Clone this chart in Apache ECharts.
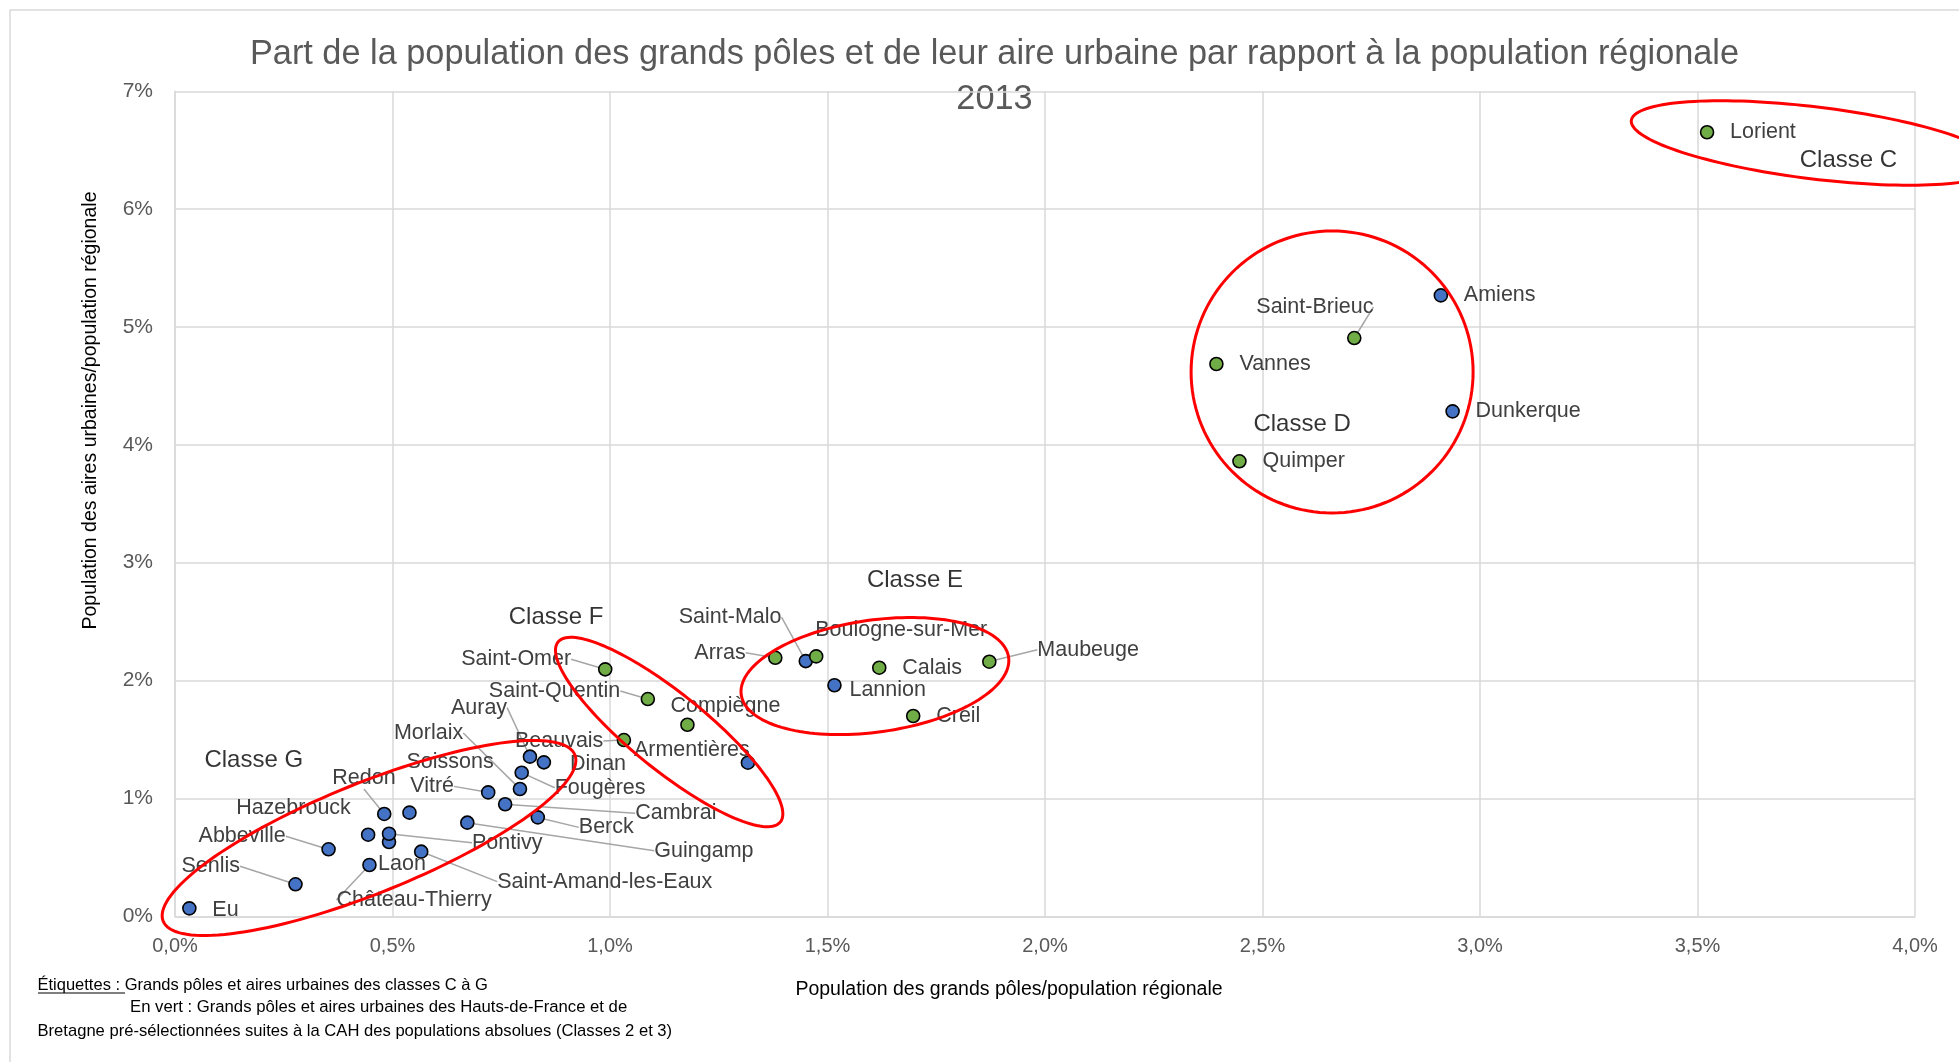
<!DOCTYPE html>
<html>
<head>
<meta charset="utf-8">
<script src="https://cdn.jsdelivr.net/npm/echarts@6/dist/echarts.min.js"></script>
<style>
html,body{margin:0;padding:0;background:#ffffff;}
#chart{width:1959px;height:1062px;}
</style>
</head>
<body>
<div id="chart"></div>
<script>
// ---------- DATA (in % ) ----------
const cities = ['Lorient','Saint-Brieuc','Vannes','Quimper','Maubeuge','Calais','Creil','Boulogne-sur-Mer','Arras','Saint-Omer','Saint-Quentin','Compiègne','Beauvais',
  'Amiens','Dunkerque','Saint-Malo','Lannion','Armentières','Dinan','Auray','Fougères','Morlaix','Vitré','Soissons','Cambrai','Berck','Guingamp','Pontivy','Laon','Hazebrouck','Redon','Saint-Amand-les-Eaux','Château-Thierry','Abbeville','Senlis','Eu'];
// Population des grands pôles / population régionale (x, %)
const partPoles = [3.522,2.711,2.394,2.447,1.872,1.619,1.697,1.474,1.380,0.989,1.087,1.178,1.032,
  2.910,2.937,1.450,1.516,1.317,0.848,0.816,0.797,0.793,0.720,0.539,0.759,0.834,0.672,0.492,0.492,0.444,0.481,0.566,0.447,0.353,0.277,0.033];
// Population des aires urbaines / population régionale (y, %)
const partAires = [6.652,4.906,4.686,3.860,2.160,2.109,1.699,2.205,2.193,2.095,1.843,1.625,1.495,
  5.268,4.284,2.165,1.960,1.303,1.306,1.354,1.218,1.080,1.051,0.879,0.950,0.839,0.794,0.700,0.630,0.692,0.868,0.548,0.435,0.568,0.271,0.067];
// Villes pré-sélectionnées (en vert)
const villesEnVert = ['Lorient','Saint-Brieuc','Vannes','Quimper','Maubeuge','Calais','Creil','Boulogne-sur-Mer','Arras','Saint-Omer','Saint-Quentin','Compiègne','Beauvais'];

// Classes (annotations)
const classNames   = ['Classe C','Classe D','Classe E','Classe F','Classe G'];
const classLabelX  = [3.847, 2.591, 1.701, 0.876, 0.181];
const classLabelY  = [6.417, 4.170, 2.848, 2.535, 1.322];
const classCenterX = [3.770, 2.660, 1.609, 1.136, 0.446];
const classCenterY = [6.561, 4.618, 2.038, 1.563, 0.664];

const xTickLabel = v => v.toFixed(1).replace('.', ',') + '%';
const yTickLabel = v => v + '%';

// ---------- LAYOUT / STYLE CONFIG ----------
const ellipseShapes = [ // pixel radii, screen rotation (deg, clockwise)
  {rx:185, ry:36, angle:7},
  {rx:141, ry:141, angle:0},
  {rx:135, ry:56, angle:-8},
  {rx:143, ry:38, angle:39},
  {rx:222, ry:55, angle:-22}
];
const labelOffsets = { // label left edge / vertical centre relative to marker centre (px)
  'Saint-Brieuc':[-98,-31], 'Maubeuge':[48,-12], 'Boulogne-sur-Mer':[-1,-26], 'Arras':[-81,-5],
  'Saint-Omer':[-144,-10], 'Saint-Quentin':[-159,-8], 'Compiègne':[-17,-19], 'Beauvais':[-109,1],
  'Saint-Malo':[-127,-44], 'Lannion':[15,5], 'Armentières':[-114,-13], 'Dinan':[26,2],
  'Auray':[-79,-49], 'Fougères':[33,15], 'Morlaix':[-126,-56], 'Vitré':[-78,-6], 'Soissons':[-3,-51],
  'Cambrai':[130,9], 'Berck':[41,10], 'Guingamp':[187,28], 'Pontivy':[83,9], 'Laon':[-11,22],
  'Hazebrouck':[-132,-27], 'Redon':[-52,-36], 'Saint-Amand-les-Eaux':[76,30], 'Château-Thierry':[-33,35],
  'Abbeville':[-130,-13], 'Senlis':[-114,-18], 'Eu':[23,2]
};
const leaderCities = ['Saint-Brieuc','Maubeuge','Arras','Saint-Malo','Saint-Omer','Saint-Quentin','Beauvais',
  'Auray','Fougères','Morlaix','Vitré','Cambrai','Berck','Guingamp','Pontivy','Redon','Saint-Amand-les-Eaux',
  'Château-Thierry','Abbeville','Senlis'];

const FONT = '"Liberation Sans", Arial, sans-serif';
const GREEN = '#70AD47', BLUE = '#4472C4';

function labelLayout(params) {
  const name = params.text;
  const off = labelOffsets[name] || [23, 0];
  const px = params.rect.x + params.rect.width / 2;
  const py = params.rect.y + params.rect.height / 2;
  const lx = px + off[0], ly = py + off[1];
  const w = params.labelRect.width, h = params.labelRect.height;
  const res = {x: lx, y: ly, align: 'left', verticalAlign: 'middle'};
  if (leaderCities.indexOf(name) >= 0) {
    let pts;
    if (lx + w + 3 < px) {
      pts = [[lx + w + 3, ly], [lx + w + 13, ly], [px, py]];
    } else if (lx - 3 > px) {
      pts = [[lx - 3, ly], [lx - 13, ly], [px, py]];
    } else if (ly < py) {
      pts = [[lx + w / 2, ly + h / 2], [lx + w / 2, ly + h / 2], [px, py]];
    } else {
      pts = [[lx + w / 2, ly - h / 2], [lx + w / 2, ly - h / 2], [px, py]];
    }
    res.labelLinePoints = pts;
  }
  return res;
}

function pointSeries(isGreen, withLeader) {
  const data = [];
  cities.forEach((c, i) => {
    const green = villesEnVert.indexOf(c) >= 0;
    const lead = leaderCities.indexOf(c) >= 0;
    if (green === isGreen && lead === withLeader) data.push({name: c, value: [partPoles[i], partAires[i]]});
  });
  return {
    type: 'scatter',
    z: 3,
    symbol: 'circle',
    symbolSize: 13,
    itemStyle: {color: isGreen ? GREEN : BLUE, borderColor: '#000000', borderWidth: 1.6, opacity: 1},
    label: {show: true, formatter: '{b}', position: 'right', color: '#404040', fontSize: 21.5, fontFamily: FONT},
    labelLine: {show: withLeader, lineStyle: {color: '#A6A6A6', width: 1.5}},
    labelLayout: labelLayout,
    emphasis: {disabled: true},
    data: data
  };
}

const chart = echarts.init(document.getElementById('chart'), null, {renderer: 'canvas'});

const option = {
  backgroundColor: '#ffffff',
  animation: false,
  grid: {left: 175, right: 44, top: 91.25, bottom: 145.75, containLabel: false, outerBoundsMode: 'none'},
  xAxis: {
    type: 'value', min: 0, max: 4, interval: 0.5,
    axisLine: {show: true, lineStyle: {color: '#D9D9D9', width: 1.5}},
    axisTick: {show: false},
    splitLine: {show: true, lineStyle: {color: '#D9D9D9', width: 1.5}},
    axisLabel: {formatter: xTickLabel, color: '#595959', fontSize: 20, fontFamily: FONT, margin: 20}
  },
  yAxis: {
    type: 'value', min: 0, max: 7, interval: 1,
    axisLine: {show: true, lineStyle: {color: '#D9D9D9', width: 1.5}},
    axisTick: {show: false},
    splitLine: {show: true, lineStyle: {color: '#D9D9D9', width: 1.5}},
    axisLabel: {formatter: yTickLabel, color: '#595959', fontSize: 21, fontFamily: FONT, margin: 22}
  },
  graphic: [
    {type: 'rect', shape: {x: 10, y: 10, width: 1970, height: 1080}, style: {fill: 'none', stroke: '#D9D9D9', lineWidth: 1.5}, z: -1, silent: true},
    {type: 'text', x: 994.5, y: 77.5, style: {text: 'Part de la population des grands pôles et de leur aire urbaine par rapport à la population régionale\n2013',
      textAlign: 'center', textVerticalAlign: 'middle', fill: '#595959', font: '34.3px ' + FONT, lineHeight: 45}, silent: true},
    {type: 'text', x: 1009, y: 990, style: {text: 'Population des grands pôles/population régionale', textAlign: 'center', textVerticalAlign: 'middle',
      fill: '#000000', font: '19.5px ' + FONT}, silent: true},
    {type: 'text', x: 91, y: 410.5, rotation: Math.PI / 2, style: {text: 'Population des aires urbaines/population régionale', textAlign: 'center', textVerticalAlign: 'middle',
      fill: '#000000', font: '19.5px ' + FONT}, silent: true},
    {type: 'text', x: 37.5, y: 985, style: {text: 'Étiquettes : Grands pôles et aires urbaines des classes C à G', textAlign: 'left', textVerticalAlign: 'middle',
      fill: '#000000', font: '16.5px ' + FONT}, silent: true},
    {type: 'line', shape: {x1: 38, y1: 993, x2: 125, y2: 993}, style: {stroke: '#000000', lineWidth: 1.2}, silent: true},
    {type: 'text', x: 130, y: 1007, style: {text: 'En vert : Grands pôles et aires urbaines des Hauts-de-France et de', textAlign: 'left', textVerticalAlign: 'middle',
      fill: '#000000', font: '16.7px ' + FONT}, silent: true},
    {type: 'text', x: 37.5, y: 1031, style: {text: 'Bretagne pré-sélectionnées suites à la CAH des populations absolues (Classes 2 et 3)', textAlign: 'left', textVerticalAlign: 'middle',
      fill: '#000000', font: '16.6px ' + FONT}, silent: true}
  ],
  series: [
    pointSeries(false, false),
    pointSeries(false, true),
    pointSeries(true, false),
    pointSeries(true, true),
    {
      type: 'custom',
      z: 6,
      clip: false,
      silent: true,
      data: classCenterX.map((x, i) => [x, classCenterY[i]]),
      renderItem: function (params, api) {
        const c = api.coord([api.value(0), api.value(1)]);
        const e = ellipseShapes[params.dataIndex];
        const th = e.angle * Math.PI / 180;
        const pts = [];
        for (let k = 0; k < 144; k++) {
          const t = k / 144 * Math.PI * 2;
          const lx = e.rx * Math.cos(t), ly = e.ry * Math.sin(t);
          pts.push([c[0] + lx * Math.cos(th) - ly * Math.sin(th), c[1] + lx * Math.sin(th) + ly * Math.cos(th)]);
        }
        return {type: 'polygon', shape: {points: pts}, style: {fill: 'none', stroke: '#FF0000', lineWidth: 3}};
      }
    },
    {
      type: 'scatter',
      z: 7,
      symbol: 'circle',
      symbolSize: 1,
      silent: true,
      itemStyle: {color: 'rgba(255,255,255,0)'},
      label: {show: true, formatter: '{b}', position: 'inside', color: '#000000', fontSize: 24, fontFamily: FONT},
      emphasis: {disabled: true},
      data: classNames.map((n, i) => ({name: n, value: [classLabelX[i], classLabelY[i]]}))
    }
  ]
};
chart.setOption(option);
</script>
</body>
</html>
